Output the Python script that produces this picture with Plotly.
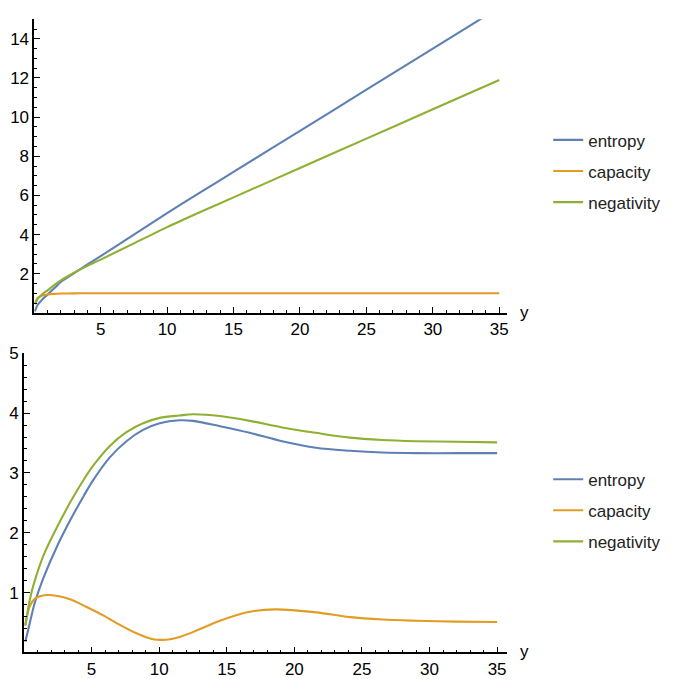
import plotly.graph_objects as go

# ---------------- data ----------------
top_x = [0.05, 0.25, 0.5, 0.75, 1.0, 1.5, 2.0, 3.0, 4.0, 5.0, 7.5, 10.0, 12.5, 15.0, 20.0, 25.0, 30.0, 35.0]
top_entropy = [0.08, 0.40, 0.60, 0.78, 0.93, 1.25, 1.58, 2.03, 2.47, 2.90, 4.00, 5.10, 6.15, 7.20, 9.30, 11.40, 13.50, 15.60]
top_negativity = [0.45, 0.70, 0.88, 1.03, 1.15, 1.42, 1.66, 2.05, 2.40, 2.72, 3.55, 4.38, 5.15, 5.90, 7.40, 8.90, 10.40, 11.90]
top_capacity = [0.45, 0.76, 0.86, 0.91, 0.94, 0.97, 0.985, 0.995, 1.0, 1.0, 1.0, 1.0, 1.0, 1.0, 1.0, 1.0, 1.0, 1.0]

bot_x = [0.1, 0.44, 0.8, 1.5, 2.46, 3.4, 4.43, 5.12, 6.35, 7.58, 8.81, 10.04, 11.5, 12.5,
         14.5, 16.7, 19.1, 21.6, 24.1, 26.5, 29.0, 32.0, 35.0]
bot_entropy = [0.18, 0.50, 0.83, 1.28, 1.78, 2.20, 2.62, 2.88, 3.26, 3.53, 3.72, 3.83, 3.88, 3.87,
               3.78, 3.67, 3.53, 3.42, 3.37, 3.34, 3.33, 3.33, 3.33]
bot_negativity = [0.45, 0.89, 1.20, 1.65, 2.10, 2.50, 2.89, 3.12, 3.45, 3.68, 3.83, 3.92, 3.96, 3.98,
                  3.95, 3.87, 3.76, 3.67, 3.59, 3.55, 3.53, 3.52, 3.51]

cap_x = [0.1, 0.44, 0.81, 1.18, 1.9, 3.4, 4.63, 5.86, 7.09, 8.32, 9.55, 10.2, 10.8, 11.5, 12.5,
         14.5, 16.7, 18.6, 21.6, 24.1, 26.5, 29.0, 32.0, 35.0]
bot_capacity = [0.45, 0.78, 0.90, 0.94, 0.96, 0.89, 0.76, 0.62, 0.46, 0.32, 0.22, 0.21, 0.22, 0.26, 0.34,
                0.53, 0.68, 0.72, 0.67, 0.59, 0.55, 0.53, 0.515, 0.51]

x_major = [5, 10, 15, 20, 25, 30, 35]
x_minor = [v for v in range(1, 36) if v % 5 != 0]
top_y_major = [2, 4, 6, 8, 10, 12, 14]
top_y_minor = [v / 2 for v in range(1, 31) if v % 4 != 0]
bot_y_major = [1, 2, 3, 4, 5]
bot_y_minor = [v / 5 for v in range(1, 25) if v % 5 != 0]

names = ["entropy", "capacity", "negativity"]
colors = ["#5E81B5", "#E19C24", "#8FB032"]

FONT = "Liberation Sans, Arial, sans-serif"
FS = 17

fig = go.Figure()

top_series = [top_entropy, top_capacity, top_negativity]
for nm, col, ys in zip(names, colors, top_series):
    fig.add_trace(go.Scatter(x=top_x, y=ys, mode="lines", name=nm,
                             line=dict(color=col, width=2.1, shape="spline", smoothing=0.6),
                             xaxis="x", yaxis="y", legend="legend", legendgroup="t" + nm))

bot_series = [(bot_x, bot_entropy), (cap_x, bot_capacity), (bot_x, bot_negativity)]
for nm, col, (xs, ys) in zip(names, colors, bot_series):
    fig.add_trace(go.Scatter(x=xs, y=ys, mode="lines", name=nm,
                             line=dict(color=col, width=2.1, shape="spline", smoothing=0.9),
                             xaxis="x2", yaxis="y2", legend="legend2", legendgroup="b" + nm))

W, H = 680, 679


def xa(domain_px, rng, anchor):
    return dict(domain=[domain_px[0] / W, domain_px[1] / W], range=rng, anchor=anchor,
                showgrid=False, zeroline=False, showline=True, linecolor="black", linewidth=1.6,
                ticks="inside", ticklen=6, tickwidth=1.4, tickcolor="black",
                tickmode="array", tickvals=x_major, ticktext=[str(v) for v in x_major],
                minor=dict(ticks="inside", ticklen=3, tickwidth=1.2, tickcolor="black",
                           tickmode="array", tickvals=x_minor),
                tickfont=dict(family=FONT, size=FS, color="black"), layer="above traces",
                fixedrange=True)


def ya(domain_px, rng, anchor, major, minor):
    return dict(domain=[(H - domain_px[0]) / H, (H - domain_px[1]) / H], range=rng, anchor=anchor,
                showgrid=False, zeroline=False, showline=True, linecolor="black", linewidth=1.6,
                ticks="inside", ticklen=6, tickwidth=1.4, tickcolor="black",
                tickmode="array", tickvals=major, ticktext=[str(v) for v in major],
                minor=dict(ticks="inside", ticklen=3, tickwidth=1.2, tickcolor="black",
                           tickmode="array", tickvals=minor),
                tickfont=dict(family=FONT, size=FS, color="black"), layer="above traces",
                fixedrange=True)


legend_common = dict(font=dict(family=FONT, size=FS, color="#222"), bgcolor="rgba(0,0,0,0)",
                     xanchor="left", yanchor="middle", tracegroupgap=6, itemclick=False)

fig.update_layout(
    width=W, height=H, autosize=False,
    margin=dict(l=0, r=0, t=0, b=0),
    paper_bgcolor="white", plot_bgcolor="white",
    font=dict(family=FONT, size=FS, color="black"),
    xaxis=xa((34.3, 508), [0, 35.6], "y"),
    yaxis=ya((310.7, 10.5), [0, 15.0], "x", top_y_major, top_y_minor),
    xaxis2=xa((24, 508), [0, 35.75], "y2"),
    yaxis2=ya((658, 352), [0, 5], "x2", bot_y_major, bot_y_minor),
    legend=dict(x=549 / W, y=(H - 166) / H, **legend_common),
    legend2=dict(x=549 / W, y=(H - 513) / H, **legend_common),
    annotations=[
        dict(text="y", x=519 / W, y=(H - 310) / H, xref="paper", yref="paper", xanchor="left",
             yanchor="middle", showarrow=False, font=dict(family=FONT, size=FS, color="black")),
        dict(text="y", x=519 / W, y=(H - 657) / H, xref="paper", yref="paper", xanchor="left",
             yanchor="middle", showarrow=False, font=dict(family=FONT, size=FS, color="black")),
    ],
    showlegend=True,
)

fig.write_html("out.html", config={"displayModeBar": False},
               post_script="document.body.style.margin='0';document.body.style.overflow='hidden';")
